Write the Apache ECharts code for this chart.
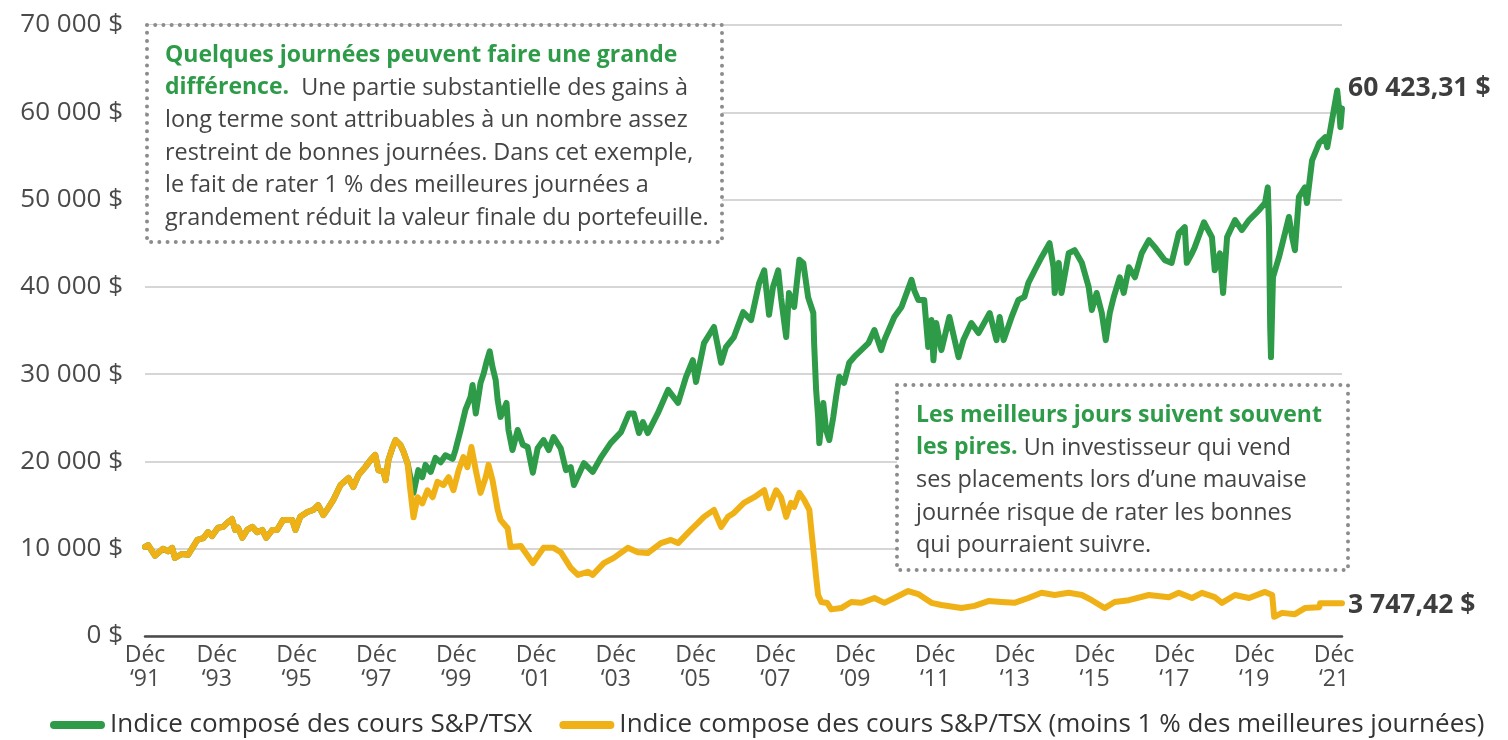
<!DOCTYPE html>
<html>
<head>
<meta charset="utf-8">
<script src="https://cdn.jsdelivr.net/npm/echarts@6/dist/echarts.min.js"></script>
<style>
html,body{margin:0;padding:0;background:#fff;}
#chart{width:1508px;height:740px;}
</style>
</head>
<body>
<div id="chart"></div>
<script>
// Series names
var nameFull = 'Indice composé des cours S&P/TSX';
var nameMiss = 'Indice compose des cours S&P/TSX (moins 1 % des meilleures journées)';

// Shared path before the split (decimal year, value $)
var commonPath = [
  [1992.00,10200],[1992.08,10400],[1992.25,9200],[1992.45,10000],[1992.58,9700],[1992.68,10100],
  [1992.75,8950],[1992.93,9400],[1993.08,9300],[1993.31,11000],[1993.46,11200],[1993.58,11900],
  [1993.68,11450],[1993.83,12400],[1993.96,12500],[1994.08,13050],[1994.18,13400],[1994.26,12150],
  [1994.33,12400],[1994.44,11250],[1994.56,12150],[1994.69,12500],[1994.81,11900],[1994.94,12150],
  [1995.04,11250],[1995.19,12150],[1995.31,12150],[1995.46,13300],[1995.69,13300],[1995.77,12150],
  [1995.89,13650],[1996.07,14200],[1996.22,14450],[1996.34,15000],[1996.47,13850],[1996.59,14650],
  [1996.72,15600],[1996.90,17300],[1997.10,18100],[1997.22,17050],[1997.35,18450],[1997.52,19350],
  [1997.65,20150],[1997.77,20750],[1997.85,19000],[1997.98,18800],[1998.03,17850],[1998.10,20150],
  [1998.20,21550],[1998.28,22450],[1998.40,21900],[1998.48,21100],[1998.58,19800]
];

// S&P/TSX composite after the split
var fullPath = [
  [1998.65,18200],[1998.73,16400],[1998.85,19000],[1998.95,18200],[1999.03,19600],[1999.16,18800],
  [1999.28,20400],[1999.41,19900],[1999.53,20700],[1999.71,20300],[1999.78,21300],[1999.91,23600],
  [2000.03,25900],[2000.16,27400],[2000.21,28750],[2000.29,25500],[2000.41,29000],[2000.49,30100],
  [2000.56,31400],[2000.64,32600],[2000.71,30800],[2000.79,29300],[2000.84,27000],[2000.91,25100],
  [2000.99,25900],[2001.06,26700],[2001.11,23600],[2001.21,21300],[2001.34,23600],[2001.47,21900],
  [2001.59,21650],[2001.72,18700],[2001.84,21500],[2001.99,22450],[2002.12,21300],[2002.24,22800],
  [2002.42,21500],[2002.55,19000],[2002.67,19350],[2002.75,17300],[2003.00,19800],[2003.22,18800],
  [2003.42,20400],[2003.67,22100],[2003.93,23350],[2004.13,25500],[2004.25,25500],[2004.38,23250],
  [2004.48,24500],[2004.60,23250],[2004.85,25500],[2005.11,28200],[2005.36,26700],[2005.56,29700],
  [2005.73,31600],[2005.81,29100],[2006.01,33550],[2006.26,35400],[2006.44,31300],[2006.56,33100],
  [2006.76,34250],[2006.99,37100],[2007.19,36200],[2007.39,40400],[2007.52,41900],[2007.64,36800],
  [2007.74,40000],[2007.87,41900],[2007.94,38800],[2008.07,34250],[2008.14,39300],[2008.27,37700],
  [2008.40,43100],[2008.50,42700],[2008.62,38800],[2008.75,37000],[2008.77,33550],[2008.82,28200],
  [2008.87,25100],[2008.90,22100],[2009.00,26700],[2009.07,23600],[2009.15,22450],[2009.25,25100],
  [2009.32,27400],[2009.40,29700],[2009.52,29000],[2009.65,31300],[2009.78,32000],[2009.95,32750],
  [2010.13,33550],[2010.28,35050],[2010.45,32750],[2010.53,33900],[2010.78,36550],[2010.96,37700],
  [2011.21,40800],[2011.28,39600],[2011.38,38500],[2011.53,38500],[2011.63,33100],[2011.71,36200],
  [2011.76,31600],[2011.83,35850],[2011.96,32750],[2012.16,36550],[2012.39,31950],[2012.51,33900],
  [2012.71,35850],[2012.89,34700],[2013.17,37000],[2013.34,33900],[2013.42,36550],[2013.52,33900],
  [2013.72,36550],[2013.89,38500],[2014.04,38850],[2014.14,40450],[2014.30,41900],[2014.47,43400],
  [2014.67,45000],[2014.77,42250],[2014.80,39300],[2014.90,42750],[2014.97,39300],[2015.15,43850],
  [2015.30,44200],[2015.48,42750],[2015.65,40000],[2015.73,37350],[2015.85,39300],[2015.98,37000],
  [2016.08,33900],[2016.18,37000],[2016.28,38850],[2016.43,41100],[2016.53,39300],[2016.66,42250],
  [2016.81,41100],[2016.98,43850],[2017.16,45350],[2017.31,44550],[2017.56,43050],[2017.73,42750],
  [2017.91,46150],[2018.06,46850],[2018.11,42750],[2018.24,43850],[2018.31,44550],[2018.54,47400],
  [2018.74,45700],[2018.81,41900],[2018.94,43850],[2019.02,39300],[2019.12,45700],[2019.32,47650],
  [2019.49,46500],[2019.67,47650],[2019.92,48800],[2020.07,49600],[2020.14,51400],[2020.17,46850],
  [2020.20,35400],[2020.22,31950],[2020.27,41100],[2020.42,43400],[2020.57,46150],[2020.67,48000],
  [2020.75,45700],[2020.82,44200],[2020.92,50300],[2021.07,51400],[2021.12,49600],[2021.25,54500],
  [2021.43,56500],[2021.58,57150],[2021.63,56000],[2021.75,59100],[2021.88,62500],[2021.93,60250],
  [2021.96,58300],[2022.00,60423.31]
];

// Same index minus the best 1 % of days, after the split
var missPath = [
  [1998.65,16700],[1998.73,13600],[1998.83,15900],[1998.95,15200],[1999.08,16700],[1999.21,15900],
  [1999.33,17650],[1999.48,17300],[1999.61,18200],[1999.73,16700],[1999.86,19000],[1999.98,20500],
  [2000.08,19350],[2000.18,21650],[2000.29,19000],[2000.41,16400],[2000.54,18200],[2000.61,19600],
  [2000.71,17850],[2000.84,14450],[2000.91,13300],[2001.09,12350],[2001.16,10200],[2001.42,10300],
  [2001.72,8350],[2001.99,10100],[2002.24,10100],[2002.42,9600],[2002.67,7800],[2002.85,7000],
  [2003.10,7350],[2003.22,7000],[2003.50,8350],[2003.75,8950],[2004.10,10100],[2004.35,9600],
  [2004.60,9500],[2004.93,10650],[2005.18,11000],[2005.36,10650],[2005.68,12150],[2005.86,12950],
  [2006.01,13650],[2006.26,14450],[2006.44,12500],[2006.61,13650],[2006.76,14100],[2007.01,15250],
  [2007.27,15900],[2007.52,16700],[2007.64,14650],[2007.82,16700],[2007.94,15900],[2008.07,13650],
  [2008.19,15250],[2008.27,14800],[2008.40,16400],[2008.52,15600],[2008.65,14450],[2008.70,12150],
  [2008.77,9050],[2008.82,6750],[2008.87,4700],[2008.95,3900],[2009.10,3780],[2009.20,3050],
  [2009.45,3200],[2009.70,3900],[2009.95,3800],[2010.28,4350],[2010.53,3800],[2010.78,4350],
  [2011.13,5150],[2011.38,4800],[2011.53,4350],[2011.71,3800],[2011.96,3550],[2012.46,3200],
  [2012.79,3450],[2013.14,4000],[2013.47,3900],[2013.79,3800],[2014.14,4350],[2014.47,4950],
  [2014.80,4700],[2015.15,4950],[2015.48,4700],[2015.73,4100],[2016.05,3200],[2016.30,3900],
  [2016.66,4100],[2017.16,4700],[2017.66,4450],[2017.91,4950],[2018.24,4350],[2018.49,4950],
  [2018.81,4450],[2018.99,3800],[2019.32,4700],[2019.67,4350],[2020.07,5050],[2020.25,4700],
  [2020.30,2200],[2020.50,2650],[2020.82,2500],[2021.07,3200],[2021.43,3300],[2021.45,3750],
  [2022.00,3747.42]
];

// Axis ticks / labels
var yTicks = {min: 0, max: 70000, step: 10000};
var xTicks = {min: 1992, max: 2022, step: 2};
var endLabelFull = '60 423,31 $';
var endLabelMiss = '3 747,42 $';

var box1Text = '{b|Quelques journées peuvent faire une grande}\n{b|différence.}  Une partie substantielle des gains à\nlong terme sont attribuables à un nombre assez\nrestreint de bonnes journées. Dans cet exemple,\nle fait de rater 1 % des meilleures journées a\ngrandement réduit la valeur finale du portefeuille.';
var box2Text = '{b|Les meilleurs jours suivent souvent}\n{b|les pires.} Un investisseur qui vend\nses placements lors d’une mauvaise\njournée risque de rater les bonnes\nqui pourraient suivre.';

var GREEN = '#2e9b48';
var YELLOW = '#efb116';
var FONT = '"Open Sans", Lato, sans-serif';

function fmtThousands(v) {
  return String(v).replace(/\B(?=(\d{3})+(?!\d))/g, ' ');
}

var chart = echarts.init(document.getElementById('chart'), null, {renderer: 'canvas'});

var richText = {
  b: {fontFamily: FONT, fontWeight: 'bold', fontSize: 23, lineHeight: 32.6, fill: GREEN, color: GREEN}
};

var xLabelStyle = {fontFamily: FONT, fontSize: 23, color: '#4a4a4a', lineHeight: 24};

var option = {
  animation: false,
  backgroundColor: '#fff',
  grid: {left: 145, right: 166, top: 25, bottom: 104, containLabel: false},
  xAxis: {
    type: 'value', min: xTicks.min, max: xTicks.max, interval: xTicks.step,
    splitLine: {show: false},
    axisTick: {show: false},
    axisLine: {show: true, lineStyle: {color: '#4a4a4a', width: 2.5}},
    axisLabel: {
      margin: 7,
      fontFamily: FONT, fontSize: 23, color: '#4a4a4a', lineHeight: 24,
      formatter: function (v) {
        var y = (Math.round(v) - 1) % 100;
        var s = (y < 10 ? '0' : '') + y;
        var st = (Math.round(v) === xTicks.min) ? 'f' : 's';
        return '{' + st + '|Déc}\n{' + st + '|‘' + s + '}';
      },
      rich: {
        f: xLabelStyle,
        s: Object.assign({padding: [0, 16, 0, 0]}, xLabelStyle)
      }
    }
  },
  yAxis: {
    type: 'value', min: yTicks.min, max: yTicks.max, interval: yTicks.step,
    axisLine: {show: false}, axisTick: {show: false},
    splitLine: {show: true, lineStyle: {color: '#c9c9c9', width: 1.5}},
    axisLabel: {
      margin: 22, fontFamily: FONT, fontSize: 26, color: '#4a4a4a',
      formatter: function (v) { return fmtThousands(v) + ' $'; }
    }
  },
  legend: {
    left: 45, top: 707,
    itemWidth: 55, itemHeight: 8, itemGap: 27,
    icon: 'path://M4,0 H52 A4,4 0 0 1 52,8 H4 A4,4 0 0 1 4,0 Z',
    textStyle: {fontFamily: FONT, fontSize: 26, color: '#333'},
    data: [nameFull, nameMiss]
  },
  series: [
    {
      name: nameFull, type: 'line', showSymbol: false, z: 3,
      color: GREEN,
      lineStyle: {color: GREEN, width: 6, join: 'round', cap: 'round'},
      data: commonPath.concat(fullPath),
      endLabel: {show: true, formatter: endLabelFull, distance: 6, offset: [0, -20],
        fontFamily: FONT, fontWeight: 'bold', fontSize: 26.5, color: '#3d3d3d'}
    },
    {
      name: nameMiss, type: 'line', showSymbol: false, z: 4,
      color: YELLOW,
      lineStyle: {color: YELLOW, width: 6, join: 'round', cap: 'round'},
      data: commonPath.concat(missPath),
      endLabel: {show: true, formatter: endLabelMiss, distance: 6, offset: [0, 2],
        fontFamily: FONT, fontWeight: 'bold', fontSize: 26.5, color: '#3d3d3d'}
    }
  ],
  graphic: [
    {
      type: 'rect', z: 1, shape: {x: 147, y: 25, width: 575, height: 217},
      style: {fill: '#fff', stroke: '#8c8c8c', lineWidth: 4, lineDash: [0.01, 8.2], lineCap: 'round'}
    },
    {
      type: 'text', z: 2, x: 165, y: 39,
      style: {text: box1Text, fontFamily: FONT, fontSize: 23.4, lineHeight: 32.6, fill: '#444', rich: richText}
    },
    {
      type: 'rect', z: 1, shape: {x: 897, y: 385, width: 451, height: 185},
      style: {fill: '#fff', stroke: '#8c8c8c', lineWidth: 4, lineDash: [0.01, 8.2], lineCap: 'round'}
    },
    {
      type: 'text', z: 2, x: 916, y: 399,
      style: {text: box2Text, fontFamily: FONT, fontSize: 23.4, lineHeight: 32.6, fill: '#444', rich: richText}
    }
  ]
};

chart.setOption(option);
</script>
</body>
</html>
